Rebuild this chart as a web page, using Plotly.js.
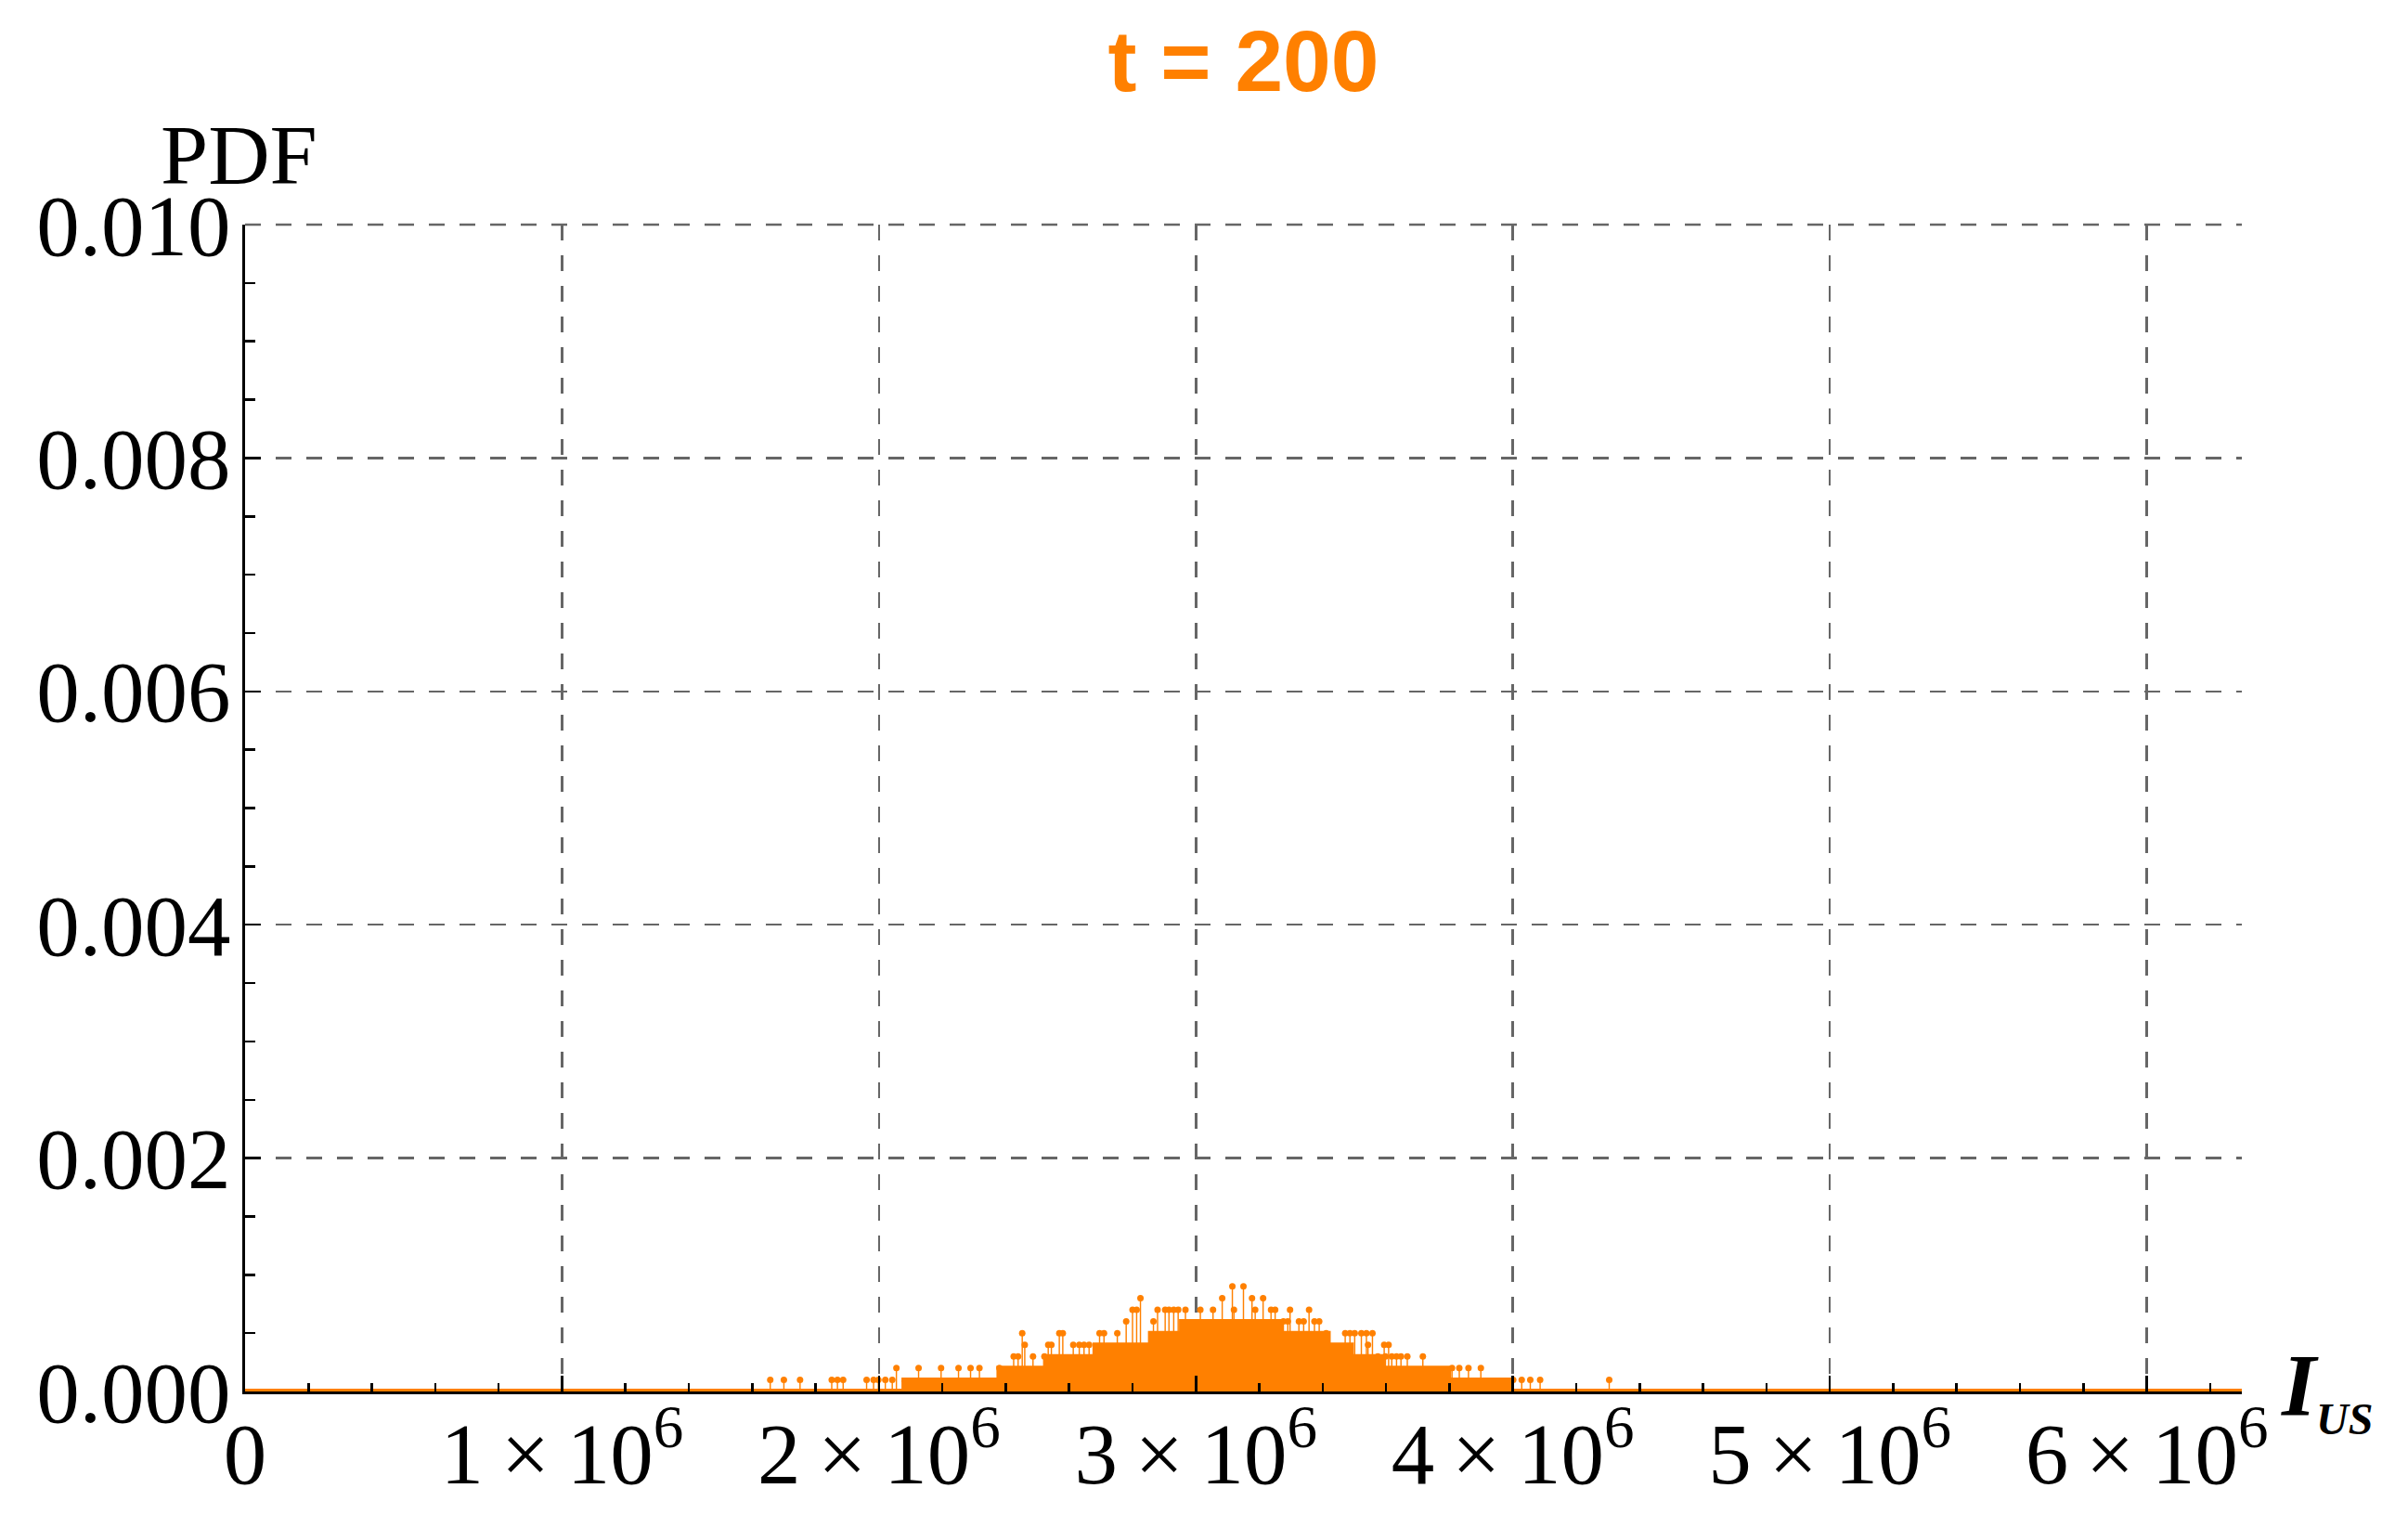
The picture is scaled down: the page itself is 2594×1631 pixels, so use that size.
<!DOCTYPE html>
<html>
<head>
<meta charset="utf-8">
<script src="https://cdn.plot.ly/plotly-3.0.1.min.js"></script>
<style>
  html, body { margin: 0; padding: 0; background: #fff; }
  #chart { width: 2594px; height: 1631px; }
</style>
</head>
<body>
<div id="chart"></div>
<script>
// every PDF value is a multiple of this
const step = 0.0001;

// the packed middle part, read as a staircase: start of each run and its level (in steps)
const denseStart = [2071000, 2378000, 2525000, 2681000, 2856000, 2954000, 3270000, 3418000, 3491000, 3589000, 3798000, 3989000];
const denseLevel = [1, 2, 3, 4, 5, 6, 5, 4, 3, 2, 1, 0];

// single stems that stick out, grouped by level
const stems1 = [1657000, 1700000, 1751000, 1851000, 1869000, 1887000, 1961000, 1983000, 1998000, 2020000, 2042000,
                4001000, 4028000, 4055000, 4086000, 4304000];
const stems2 = [2055000, 2125000, 2196000, 2251000, 2289000, 2317000, 2380000, 3808000, 3831000, 3860000, 3899000];
const stems3 = [2425000, 2439000, 2486000, 2522000, 3574000, 3598000, 3618000, 3633000, 3647000, 3667000, 3716000];
const stems4 = [2460000, 2534000, 2544000, 2613000, 2632000, 2647000, 2663000, 3543000, 3594000, 3608000];
const stems5 = [2452000, 2569000, 2580000, 2696000, 2710000, 2752000, 3411000, 3471000, 3486000, 3501000, 3522000, 3538000, 3557000];
const stems6 = [2780000, 2866000, 3276000, 3290000, 3325000, 3340000, 3374000, 3389000];
const stems7 = [2800000, 2813000, 2879000, 2903000, 2915000, 2930000, 2944000, 2967000, 3014000, 3054000,
                3120000, 3187000, 3237000, 3250000, 3297000, 3357000];
const stems8 = [2825000, 3083000, 3177000, 3212000];
const stems9 = [3115000, 3150000];

const xTickVals = [0, 1000000, 2000000, 3000000, 4000000, 5000000, 6000000];
const xTickText = ['0', '1\u2009×\u200910<sup>6</sup>', '2\u2009×\u200910<sup>6</sup>', '3\u2009×\u200910<sup>6</sup>',
                   '4\u2009×\u200910<sup>6</sup>', '5\u2009×\u200910<sup>6</sup>', '6\u2009×\u200910<sup>6</sup>'];
const yTickVals = [0, 0.002, 0.004, 0.006, 0.008, 0.010];
const yTickText = ['0.000', '0.002', '0.004', '0.006', '0.008', '0.010'];

const orange = '#FF8000';
const serif = 'Liberation Serif, Times New Roman, serif';

var stemX = [];
var stemY = [];
[stems1, stems2, stems3, stems4, stems5, stems6, stems7, stems8, stems9].forEach(function(list, i) {
    list.forEach(function(x) {
        stemX.push(x);
        stemY.push((i + 1) * step);
    });
});

var data = [
    {
        type: 'scatter', mode: 'lines',
        x: denseStart, y: denseLevel.map(k => k * step),
        line: {shape: 'hv', color: orange, width: 5},
        fill: 'tozeroy', fillcolor: orange,
        hoverinfo: 'skip'
    },
    {
        type: 'bar', x: stemX, y: stemY, width: 4200,
        marker: {color: orange, line: {width: 0}},
        hoverinfo: 'skip'
    },
    {
        type: 'scatter', mode: 'markers', x: stemX, y: stemY,
        marker: {size: 7, color: orange},
        cliponaxis: false,
        hoverinfo: 'skip'
    }
];

var axisCommon = {
    showline: true, linecolor: '#000', linewidth: 3,
    ticks: 'inside', ticklen: 17, tickwidth: 2.5, tickcolor: '#000',
    tickmode: 'array',
    tickfont: {family: serif, size: 93, color: '#000'},
    showgrid: true, gridcolor: '#666', gridwidth: 2.5, griddash: '17px,16px',
    zeroline: false, fixedrange: true
};

var layout = {
    width: 2594, height: 1631,
    margin: {l: 264, r: 179, t: 242, b: 132},
    paper_bgcolor: '#fff', plot_bgcolor: '#fff',
    showlegend: false,
    title: {
        text: 't = 200',
        font: {family: 'Liberation Sans, Arial, sans-serif', size: 93, color: orange, weight: 'bold'},
        x: 0.5, xref: 'paper', xanchor: 'center',
        y: 0.9598, yref: 'container', yanchor: 'middle'
    },
    xaxis: Object.assign({}, axisCommon, {
        range: [0, 6300000],
        tickvals: xTickVals, ticktext: xTickText,
        ticklabelstandoff: -16,
        minor: {ticks: 'inside', tick0: 0, dtick: 200000, ticklen: 9, tickwidth: 2.5, tickcolor: '#000', showgrid: false}
    }),
    yaxis: Object.assign({}, axisCommon, {
        range: [0, 0.010],
        tickvals: yTickVals, ticktext: yTickText,
        ticklabelstandoff: -6,
        minor: {ticks: 'inside', tick0: 0, dtick: 0.0005, ticklen: 11, tickwidth: 2.5, tickcolor: '#000', showgrid: false}
    }),
    shapes: [
        // zero-valued points along the whole axis
        {type: 'line', xref: 'paper', yref: 'paper', x0: 0, x1: 1, y0: 0, y1: 0,
         line: {color: orange, width: 6}, layer: 'below'},
        // top grid line (plotly drops the one on the range edge)
        {type: 'line', xref: 'paper', yref: 'paper', x0: 0, x1: 1, y0: 1, y1: 1,
         line: {color: '#666', width: 2.5, dash: '17px,16px'}, layer: 'below'}
    ],
    annotations: [
        {xref: 'paper', yref: 'paper', x: 0, y: 1, xanchor: 'center', yanchor: 'bottom',
         xshift: -7, yshift: 22, showarrow: false,
         text: 'PDF', font: {family: serif, size: 92, color: '#000'}},
        {xref: 'paper', yref: 'paper', x: 1, y: 0, xanchor: 'left', yanchor: 'middle',
         xshift: 40, yshift: 2, showarrow: false,
         text: '<b><i>I</i></b><sub><b><i><span style="font-size:48px">US</span></i></b></sub>',
         font: {family: serif, size: 95, color: '#000'}}
    ]
};

Plotly.newPlot('chart', data, layout, {displayModeBar: false, staticPlot: true});
</script>
</body>
</html>
